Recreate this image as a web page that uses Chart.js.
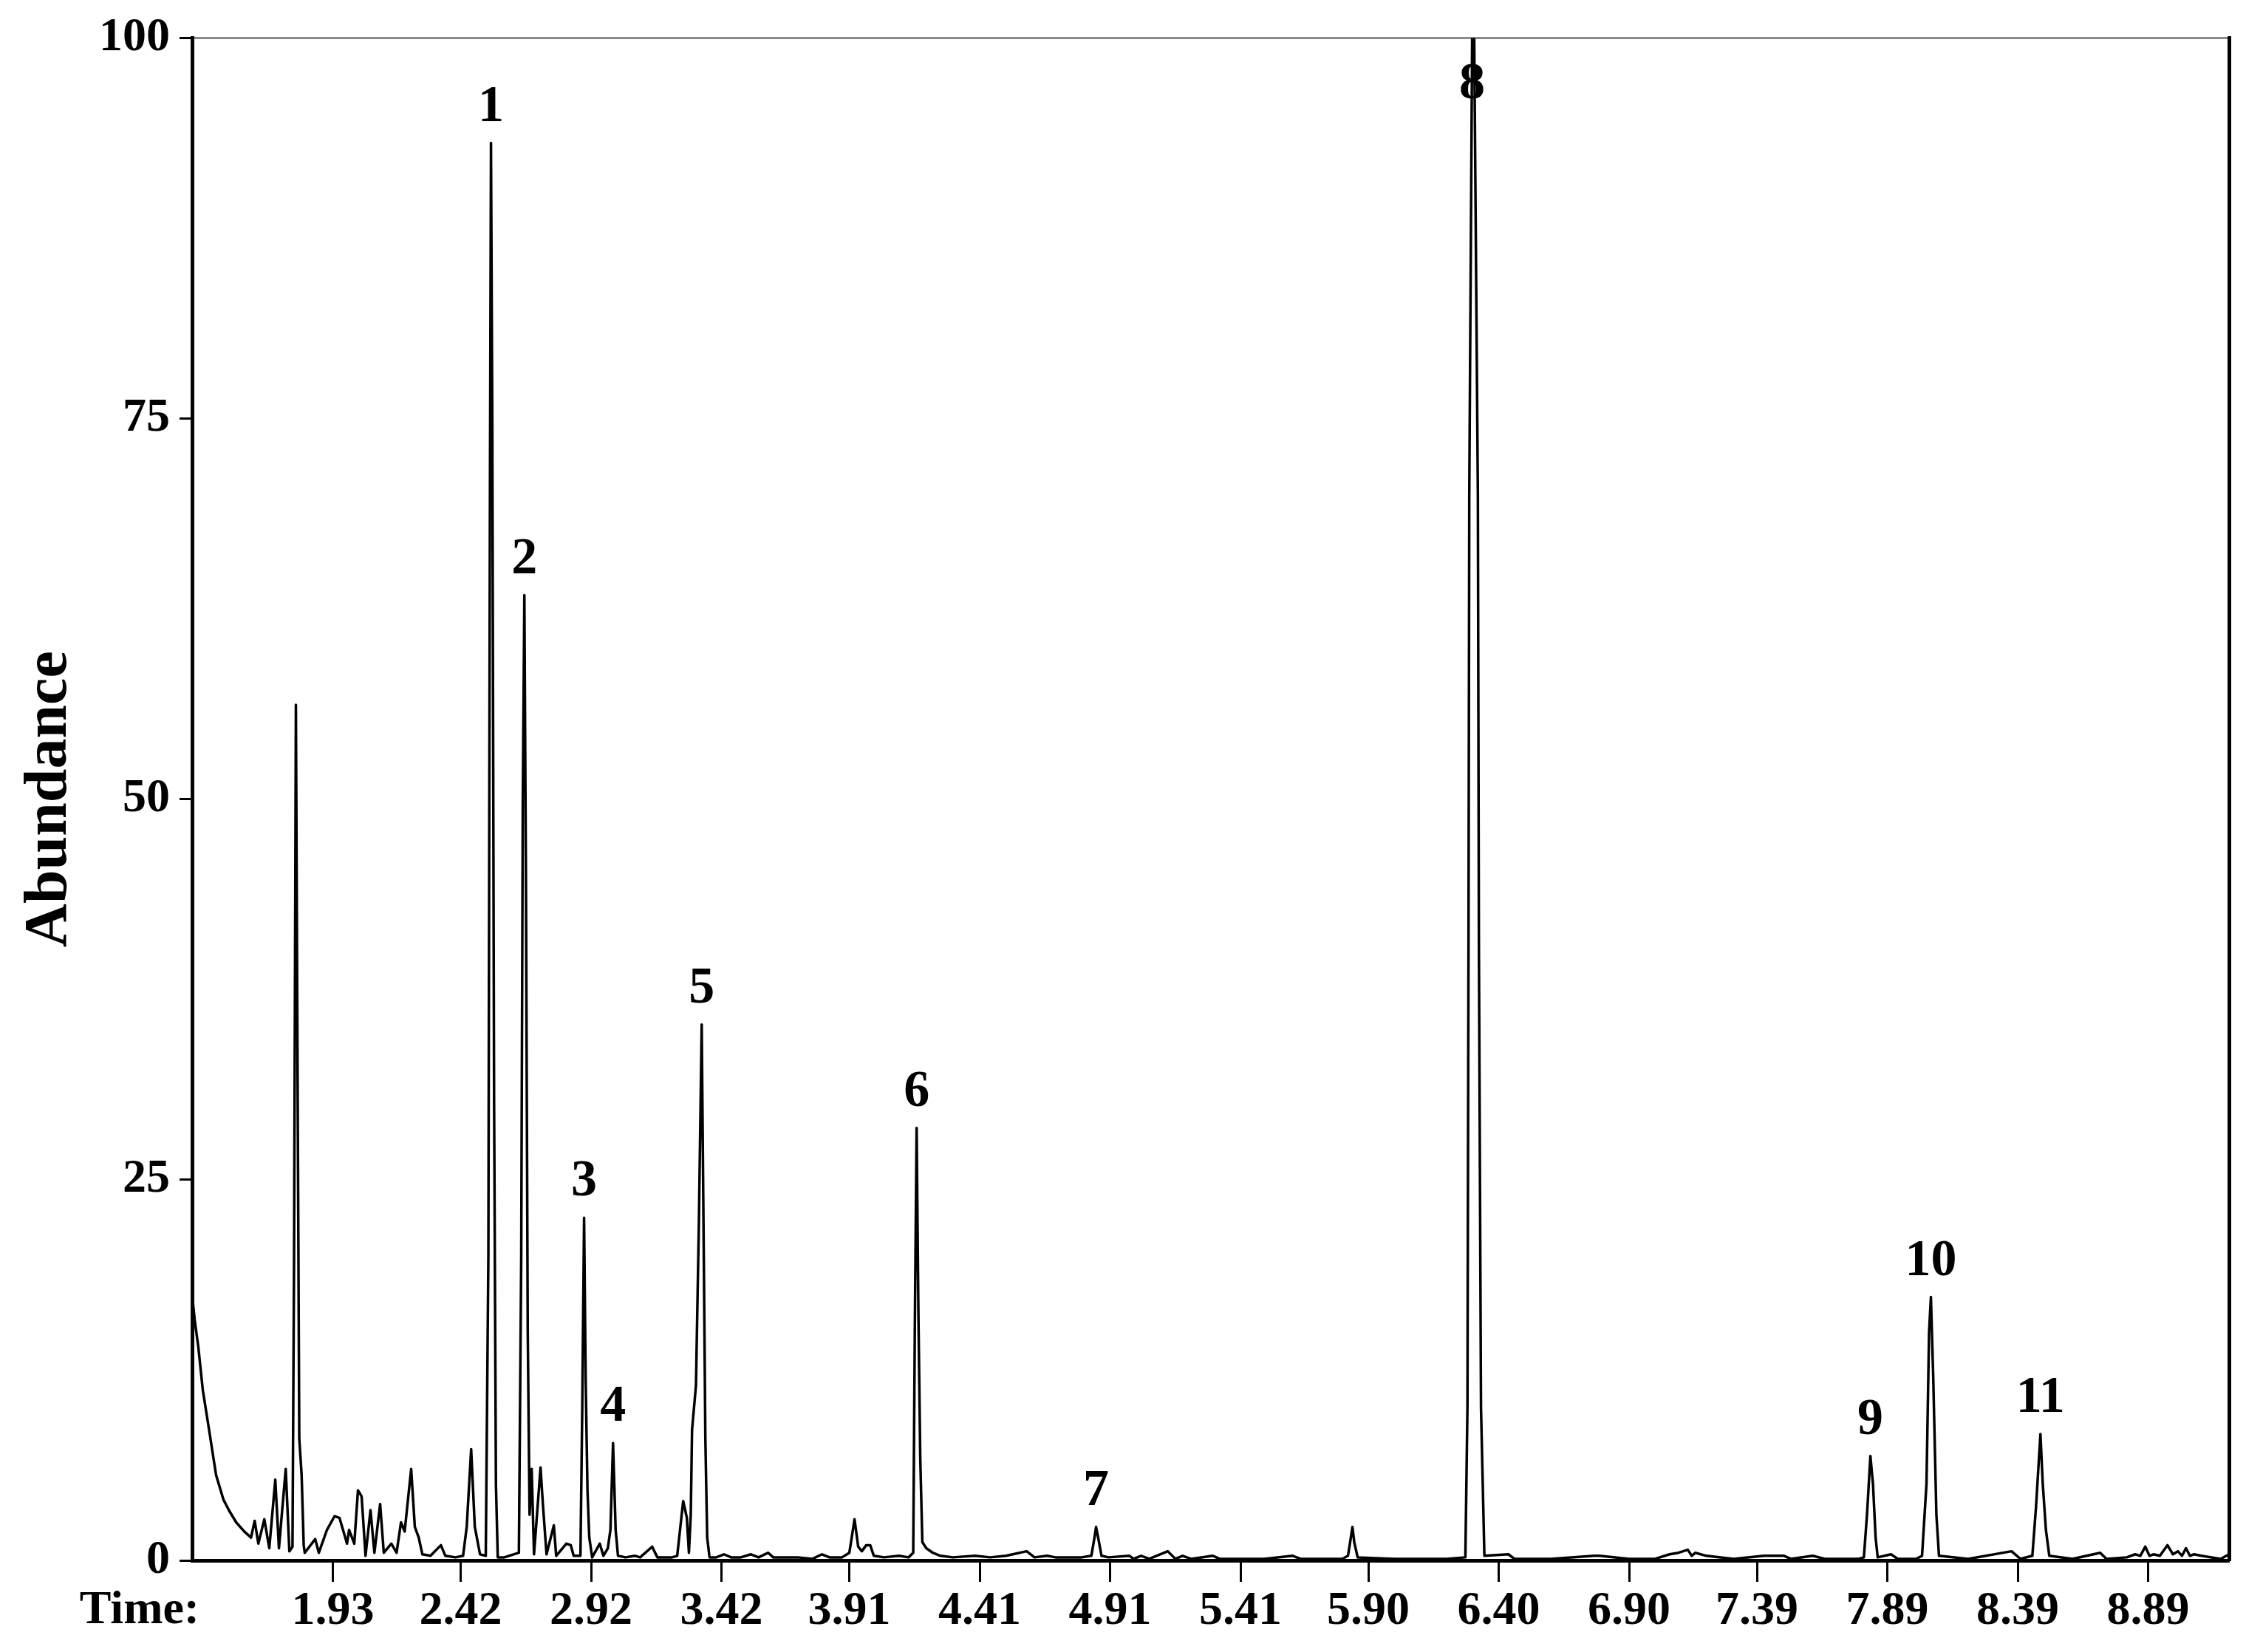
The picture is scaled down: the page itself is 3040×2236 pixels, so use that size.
<!DOCTYPE html>
<html>
<head>
<meta charset="utf-8">
<title>Chromatogram</title>
<script src="https://cdn.jsdelivr.net/npm/chart.js@4.4.0/dist/chart.umd.min.js"></script>
<style>
  html, body { margin: 0; padding: 0; background: #fff; }
  canvas { display: block; }
</style>
</head>
<body>
<canvas id="tic" width="3040" height="2236"></canvas>
<script>
// retention time (min) and abundance (%), one row per stretch
const retentionTime = [
  1.390, 1.400, 1.414, 1.431, 1.454, 1.482, 1.510, 1.531, 1.559, 1.590, 1.616,
  1.630, 1.644, 1.667, 1.686, 1.709, 1.723, 1.749, 1.763, 1.775,
  1.781, 1.788, 1.795, 1.801, 1.810, 1.818, 1.822, 1.862,
  1.876, 1.907, 1.936, 1.955, 1.984, 1.992, 2.012, 2.026, 2.040, 2.055, 2.074,
  2.089, 2.111, 2.125, 2.154, 2.174, 2.191, 2.205, 2.230, 2.244, 2.259, 2.273,
  2.304, 2.344, 2.361, 2.400, 2.429, 2.443, 2.460, 2.474, 2.494, 2.516,
  2.526, 2.532, 2.536, 2.541, 2.548, 2.555, 2.562, 2.587,
  2.643, 2.652, 2.658, 2.664, 2.670, 2.677, 2.684, 2.692, 2.701, 2.726,
  2.735, 2.749, 2.777, 2.786, 2.825, 2.842, 2.853, 2.879, 2.886,
  2.893, 2.899, 2.906, 2.913, 2.924, 2.953, 2.967, 2.984, 2.994, 3.004, 3.014,
  3.023, 3.052, 3.089, 3.108, 3.154, 3.174, 3.230, 3.250, 3.273, 3.287, 3.295,
  3.302, 3.307, 3.322, 3.333, 3.344, 3.352, 3.358, 3.365, 3.374,
  3.400, 3.429, 3.457, 3.494, 3.533, 3.562, 3.599, 3.618, 3.684, 3.712, 3.769,
  3.805, 3.834, 3.882, 3.910, 3.930, 3.944, 3.958, 3.975, 3.990, 4.004, 4.043,
  4.100, 4.137, 4.155, 4.161, 4.168, 4.175, 4.182, 4.190, 4.205, 4.230, 4.259, 4.307,
  4.392, 4.450, 4.511, 4.590, 4.620, 4.669, 4.700, 4.800, 4.838, 4.850, 4.856,
  4.864, 4.877, 4.904, 4.984, 5.000, 5.029, 5.060, 5.131, 5.160, 5.188, 5.220,
  5.304, 5.330, 5.500, 5.610, 5.640, 5.800, 5.822, 5.833, 5.839, 5.846, 5.859,
  6.000, 6.200, 6.272, 6.280, 6.284, 6.287, 6.298, 6.306, 6.320, 6.324, 6.332, 6.345, 6.437,
  6.460, 6.600, 6.766, 6.786, 6.900, 7.000, 7.055, 7.089, 7.125, 7.140, 7.154,
  7.196, 7.300, 7.417, 7.451, 7.494, 7.520, 7.604, 7.650, 7.780, 7.800, 7.812,
  7.825, 7.835, 7.845, 7.853, 7.904, 7.930, 8.000, 8.023, 8.040, 8.050, 8.057,
  8.066, 8.078, 8.088, 8.200, 8.366, 8.400, 8.446, 8.460, 8.477, 8.486, 8.498,
  8.511, 8.600, 8.706, 8.730, 8.808, 8.840, 8.860, 8.879, 8.895, 8.910, 8.935,
  8.964, 8.985, 9.004, 9.020, 9.035, 9.050, 9.066, 9.094, 9.168, 9.200
];
const abundance = [
  17.5, 15.8, 14.0, 11.2, 8.7, 5.6, 4.0, 3.3, 2.5, 1.9, 1.5,
  2.6, 1.1, 2.7, 0.8, 5.3, 0.8, 6.0, 0.6, 0.9,
  20.0, 56.2, 30.0, 8.0, 5.6, 1.0, 0.5, 1.4,
  0.5, 2.0, 2.9, 2.8, 1.1, 2.0, 1.1, 4.6, 4.2, 0.3, 3.3,
  0.5, 3.7, 0.5, 1.1, 0.5, 2.5, 1.9, 6.0, 2.2, 1.5, 0.4,
  0.3, 1.0, 0.3, 0.2, 0.3, 2.2, 7.3, 2.2, 0.4, 0.3,
  20.0, 70.0, 93.1, 75.0, 30.0, 5.0, 0.2, 0.2,
  0.5, 20.0, 50.0, 63.4, 45.0, 15.0, 3.0, 6.0, 0.4, 6.1,
  3.7, 0.4, 2.3, 0.3, 1.1, 1.0, 0.3, 0.3, 10.0,
  22.5, 12.0, 4.6, 1.5, 0.2, 1.1, 0.3, 0.8, 2.0, 7.7, 2.0,
  0.3, 0.2, 0.3, 0.2, 0.9, 0.2, 0.2, 0.3, 3.9, 2.8, 0.5,
  3.0, 8.6, 11.5, 22.0, 35.2, 20.0, 8.0, 1.5, 0.2,
  0.2, 0.4, 0.2, 0.2, 0.4, 0.2, 0.5, 0.2, 0.2, 0.2, 0.1,
  0.4, 0.2, 0.2, 0.5, 2.7, 0.9, 0.6, 1.0, 1.0, 0.3, 0.2,
  0.3, 0.2, 0.5, 15.0, 28.4, 16.0, 6.7, 1.2, 0.8, 0.5, 0.3, 0.2,
  0.3, 0.2, 0.3, 0.6, 0.2, 0.3, 0.2, 0.2, 0.3, 1.5, 2.2,
  1.5, 0.3, 0.2, 0.3, 0.1, 0.3, 0.1, 0.6, 0.1, 0.3, 0.1,
  0.3, 0.1, 0.1, 0.3, 0.1, 0.1, 0.3, 1.5, 2.2, 1.2, 0.2,
  0.1, 0.1, 0.2, 10.0, 40.0, 70.0, 100, 100, 70.0, 40.0, 10.0, 0.3, 0.4,
  0.1, 0.1, 0.3, 0.3, 0.1, 0.1, 0.4, 0.5, 0.7, 0.3, 0.5,
  0.3, 0.1, 0.3, 0.3, 0.3, 0.1, 0.3, 0.1, 0.1, 0.2, 3.0,
  6.85, 5.0, 1.5, 0.2, 0.4, 0.1, 0.1, 0.3, 5.0, 15.0, 17.3,
  12.0, 3.0, 0.3, 0.1, 0.6, 0.1, 0.3, 3.5, 8.3, 5.0, 2.0,
  0.3, 0.1, 0.5, 0.1, 0.2, 0.4, 0.3, 0.9, 0.3, 0.4, 0.3,
  1.0, 0.4, 0.6, 0.3, 0.8, 0.3, 0.4, 0.3, 0.1, 0.4
];

const xTickValues = [1.93, 2.42, 2.92, 3.42, 3.91, 4.41, 4.91, 5.41, 5.90, 6.40, 6.90, 7.39, 7.89, 8.39, 8.89];
const xTickLabels = ['1.93', '2.42', '2.92', '3.42', '3.91', '4.41', '4.91', '5.41', '5.90', '6.40', '6.90', '7.39', '7.89', '8.39', '8.89'];
const yTickValues = [0, 25, 50, 75, 100];

const peakNumbers = ['1', '2', '3', '4', '5', '6', '7', '8', '9', '10', '11'];
const peakTimes = [2.536, 2.664, 2.893, 3.004, 3.344, 4.168, 4.856, 6.298, 7.825, 8.057, 8.477];

if (retentionTime.length !== abundance.length) {
    console.error('length mismatch', retentionTime.length, abundance.length);
}

const serif = "'Liberation Serif', 'Times New Roman', serif";

const peakLabelPlugin = {
    id: 'peakLabels',
    afterDatasetsDraw(chart) {
        const { ctx, chartArea, scales } = chart;
        ctx.save();
        ctx.font = 'bold 70px ' + serif;
        ctx.fillStyle = '#000';
        ctx.textAlign = 'center';
        ctx.textBaseline = 'alphabetic';
        peakNumbers.forEach((name, i) => {
            const idx = retentionTime.indexOf(peakTimes[i]);
            const px = scales.x.getPixelForValue(peakTimes[i]);
            const py = scales.y.getPixelForValue(abundance[idx]);
            ctx.fillText(name, px, Math.max(py - 30, chartArea.top + 82));
        });
        ctx.restore();
    }
};

const timeLabelPlugin = {
    id: 'timeLabel',
    afterDraw(chart) {
        const { ctx, chartArea, scales } = chart;
        ctx.save();
        ctx.font = 'bold 64px ' + serif;
        ctx.fillStyle = '#000';
        ctx.textAlign = 'center';
        ctx.textBaseline = 'middle';
        ctx.fillText('Time:', chartArea.left - 71, scales.x.top + 68);
        ctx.restore();
    }
};

new Chart(document.getElementById('tic'), {
    type: 'line',
    data: {
        datasets: [
            {
                label: 'TIC',
                data: retentionTime.map((t, i) => ({ x: t, y: abundance[i] })),
                borderColor: '#000',
                borderWidth: 3.5,
                borderJoinStyle: 'round',
                pointRadius: 0,
                tension: 0,
                fill: false,
            },
        ],
    },
    options: {
        responsive: false,
        animation: false,
        devicePixelRatio: 1,
        layout: { padding: { top: 49, right: 23, left: 0, bottom: 0 } },
        plugins: {
            legend: { display: false },
            tooltip: { enabled: false },
        },
        scales: {
            x: {
                type: 'linear',
                position: 'bottom',
                min: 1.39,
                max: 9.20,
                afterBuildTicks: (scale) => {
                    scale.ticks = xTickValues.map((v) => ({ value: v }));
                },
                afterFit: (scale) => { scale.height = 124; },
                ticks: {
                    autoSkip: false,
                    maxRotation: 0,
                    padding: 2,
                    color: '#000',
                    font: { family: serif, size: 64, weight: 'bold' },
                    callback: (value, index) => xTickLabels[index],
                },
                grid: { drawOnChartArea: false, drawTicks: true, tickLength: 29, tickWidth: 3, tickColor: '#000' },
                border: { color: '#000', width: 5 },
            },
            xTop: {
                type: 'linear',
                position: 'top',
                afterFit: (scale) => { scale.height = 0; },
                ticks: { display: false },
                grid: { drawOnChartArea: false, drawTicks: false },
                border: { color: '#8a8a8a', width: 3 },
            },
            y: {
                type: 'linear',
                position: 'left',
                min: 0,
                max: 100,
                afterBuildTicks: (scale) => {
                    scale.ticks = yTickValues.map((v) => ({ value: v }));
                },
                afterFit: (scale) => { scale.width = 260; },
                ticks: {
                    padding: 13,
                    color: '#000',
                    font: { family: serif, size: 64, weight: 'bold' },
                },
                grid: { drawOnChartArea: false, drawTicks: true, tickLength: 17, tickWidth: 3, tickColor: '#000' },
                border: { color: '#000', width: 5 },
                title: {
                    display: true,
                    text: 'Abundance',
                    color: '#000',
                    font: { family: serif, size: 82, weight: 'bold' },
                    padding: { top: 19, bottom: 0 },
                },
            },
            yRight: {
                type: 'linear',
                position: 'right',
                afterFit: (scale) => { scale.width = 0; },
                ticks: { display: false },
                grid: { drawOnChartArea: false, drawTicks: false },
                border: { color: '#000', width: 5 },
            },
        },
    },
    plugins: [peakLabelPlugin, timeLabelPlugin],
});
</script>
</body>
</html>
